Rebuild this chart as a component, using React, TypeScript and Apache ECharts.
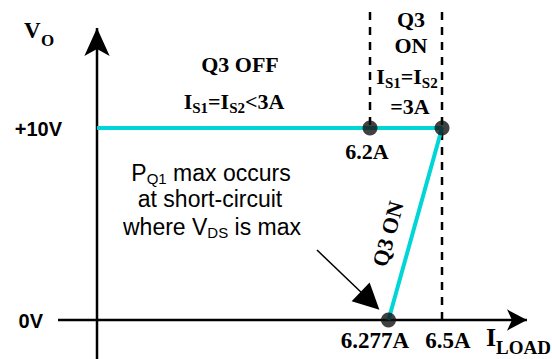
import React, { useEffect, useRef } from "react";
import * as echarts from "echarts";

// Transfer characteristic V_O vs I_LOAD (schematic, current axis broken near origin)
const CURVE_X = [5.0625, 6.2, 6.5, 6.277]; // A (first point sits on the V_O axis)
const CURVE_Y = [10, 10, 10, 0]; // V
const DOT_X = [6.2, 6.5, 6.277];
const DOT_Y = [10, 10, 0];
const DASH_X = [6.2, 6.5];
const DASH_Y_FROM = [10, 0];
const DASH_TOP = 16.04;
const Y_TICKS = ["+10V", "0V"];
const X_TICKS = ["6.2A", "6.277A", "6.5A"];
const NOTE_FROM = [5.979, 3.646];
const NOTE_TO = [6.2, 1.0];

// axis view window
const X_MIN = 4.6583;
const X_MAX = 6.9583;
const Y_MIN = -2.03125;
const Y_MAX = 16.6667;
const ORIGIN_X = 5.0625;
const X_AXIS_START = 4.9;
const X_ARROW = 6.854;
const Y_ARROW = 15.21;

const SERIF = "'Liberation Serif', 'Times New Roman', serif";
const SANS = "'Liberation Sans', Arial, sans-serif";
const CYAN = "#00d6d6";

const bold = (size: number, lh: number, va?: string) => ({
  fontSize: size,
  fontFamily: SERIF,
  fontWeight: "bold",
  fill: "#000",
  lineHeight: lh,
  verticalAlign: va,
});
const sans = (size: number, lh: number, va?: string) => ({
  fontSize: size,
  fontFamily: SANS,
  fill: "#000",
  lineHeight: lh,
  verticalAlign: va,
});

export default function App() {
  const ref = useRef<HTMLDivElement>(null);
  useEffect(() => {
    if (!ref.current) return;
    const chart = echarts.init(ref.current, null, { renderer: "svg" });
    const serifRich = { m: bold(22, 28), s: bold(15, 14, "bottom") };
    const sansRich = { m: sans(23, 25), s: sans(15, 13, "bottom") };
    const option: any = {
      animation: false,
      grid: { left: 0, right: 0, top: 0, bottom: 0 },
      xAxis: { type: "value", min: X_MIN, max: X_MAX, show: false },
      yAxis: { type: "value", min: Y_MIN, max: Y_MAX, show: false },
      series: [
        {
          type: "line",
          z: 2,
          silent: true,
          showSymbol: true,
          lineStyle: { color: "#000", width: 2.5 },
          itemStyle: { color: "#000" },
          data: [
            { value: [ORIGIN_X, Y_MIN], symbol: "none" },
            { value: [ORIGIN_X, Y_ARROW], symbol: "arrow", symbolSize: [19, 28] },
          ],
        },
        {
          type: "line",
          z: 2,
          silent: true,
          showSymbol: true,
          lineStyle: { color: "#000", width: 2.5 },
          itemStyle: { color: "#000" },
          data: [
            { value: [X_AXIS_START, 0], symbol: "none" },
            { value: [X_ARROW, 0], symbol: "arrow", symbolSize: [16, 20], symbolRotate: -90 },
          ],
        },
        ...DASH_X.map((x, i) => ({
          type: "line",
          z: 1,
          silent: true,
          symbol: "none",
          lineStyle: { color: "#000", width: 2.5, type: [8, 7] },
          data: [
            [x, DASH_TOP],
            [x, DASH_Y_FROM[i]],
          ],
        })),
        {
          type: "line",
          z: 3,
          silent: true,
          symbol: "none",
          lineStyle: { color: CYAN, width: 4 },
          data: CURVE_X.map((x, i) => [x, CURVE_Y[i]]),
        },
        {
          type: "scatter",
          z: 4,
          silent: true,
          symbolSize: 15,
          itemStyle: { color: "#111" },
          data: DOT_X.map((x, i) => [x, DOT_Y[i]]),
        },
        {
          type: "line",
          z: 2,
          silent: true,
          symbol: "none",
          lineStyle: { opacity: 0 },
          data: [],
          markLine: {
            silent: true,
            symbol: ["none", "triangle"],
            symbolSize: 26,
            label: { show: false },
            itemStyle: { color: "#000" },
            lineStyle: { color: "#000", width: 1.5, type: "solid", opacity: 1 },
            data: [[{ coord: NOTE_FROM }, { coord: NOTE_TO }]],
          },
        },
      ],
      graphic: [
        { type: "text", x: 24, y: 30, style: { text: "V", font: `bold 23px ${SERIF}`, fill: "#000", verticalAlign: "middle" } },
        { type: "text", x: 41, y: 40, style: { text: "O", font: `bold 17px ${SERIF}`, fill: "#000", verticalAlign: "middle" } },
        { type: "text", x: 62, y: 129, style: { text: Y_TICKS[0], font: `bold 20px ${SANS}`, fill: "#000", align: "right", verticalAlign: "middle" } },
        { type: "text", x: 43, y: 321, style: { text: Y_TICKS[1], font: `bold 20px ${SANS}`, fill: "#000", align: "right", verticalAlign: "middle" } },
        { type: "text", x: 367, y: 151, style: { text: X_TICKS[0], font: `bold 22px ${SERIF}`, fill: "#000", align: "center", verticalAlign: "middle" } },
        { type: "text", x: 375, y: 340, style: { text: X_TICKS[1], font: `bold 23px ${SERIF}`, fill: "#000", align: "center", verticalAlign: "middle" } },
        { type: "text", x: 448, y: 340, style: { text: X_TICKS[2], font: `bold 23px ${SERIF}`, fill: "#000", align: "center", verticalAlign: "middle" } },
        { type: "text", x: 486, y: 337, style: { text: "I", font: `bold 26px ${SERIF}`, fill: "#000", verticalAlign: "middle" } },
        { type: "text", x: 496, y: 347, style: { text: "LOAD", font: `bold 19px ${SERIF}`, fill: "#000", verticalAlign: "middle" } },
        { type: "text", x: 240, y: 64, style: { text: "Q3 OFF", font: `bold 22px ${SERIF}`, fill: "#000", align: "center", verticalAlign: "middle" } },
        {
          type: "text",
          x: 234,
          y: 101,
          style: { text: "{m|I}{s|S1}{m|=I}{s|S2}{m|<3A}", rich: serifRich, align: "center", verticalAlign: "middle" },
        },
        { type: "text", x: 411, y: 19, style: { text: "Q3", font: `bold 22px ${SERIF}`, fill: "#000", align: "center", verticalAlign: "middle" } },
        { type: "text", x: 411, y: 45, style: { text: "ON", font: `bold 22px ${SERIF}`, fill: "#000", align: "center", verticalAlign: "middle" } },
        {
          type: "text",
          x: 407,
          y: 76,
          style: { text: "{m|I}{s|S1}{m|=I}{s|S2}", rich: serifRich, align: "center", verticalAlign: "middle" },
        },
        { type: "text", x: 410, y: 106, style: { text: "=3A", font: `bold 22px ${SERIF}`, fill: "#000", align: "center", verticalAlign: "middle" } },
        {
          type: "text",
          x: 388,
          y: 234,
          rotation: (75 * Math.PI) / 180,
          style: { text: "Q3 ON", font: `bold 22px ${SERIF}`, fill: "#000", align: "center", verticalAlign: "middle" },
        },
        {
          type: "text",
          x: 211,
          y: 173,
          style: { text: "{m|P}{s|Q1}{m| max occurs}", rich: sansRich, align: "center", verticalAlign: "middle" },
        },
        { type: "text", x: 210, y: 199, style: { text: "at short-circuit", font: `23px ${SANS}`, fill: "#000", align: "center", verticalAlign: "middle" } },
        {
          type: "text",
          x: 212,
          y: 227,
          style: { text: "{m|where V}{s|DS}{m| is max}", rich: sansRich, align: "center", verticalAlign: "middle" },
        },
      ],
    };
    chart.setOption(option);
    return () => chart.dispose();
  }, []);
  return <div ref={ref} style={{ width: 552, height: 359, position: "fixed", left: 0, top: 0, background: "#fff" }} />;
}
